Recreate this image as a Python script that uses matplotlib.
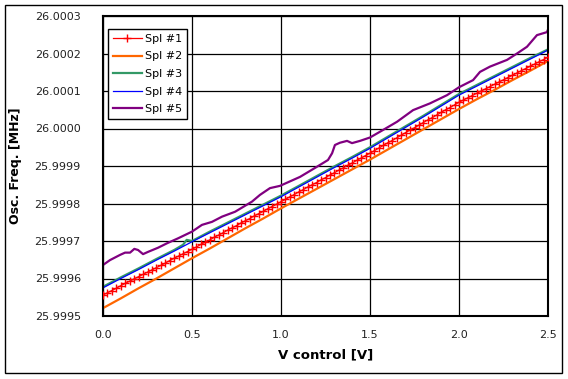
import matplotlib
matplotlib.use('Agg')
import matplotlib.pyplot as plt
from matplotlib.patches import Rectangle
from matplotlib.ticker import FormatStrFormatter, MultipleLocator

# Spl #1 (red, markers) read every 0.025 V
v_fine = [i * 0.025 for i in range(101)]
spl1 = [25.999556, 25.999562, 25.999568, 25.999574, 25.999581, 25.999587, 25.999593, 25.999599,
        25.999605, 25.999611, 25.999617, 25.999623, 25.999629, 25.999635, 25.999641, 25.999648,
        25.999654, 25.999660, 25.999666, 25.999672, 25.999678, 25.999684, 25.999691, 25.999697,
        25.999703, 25.999710, 25.999716, 25.999722, 25.999729, 25.999735, 25.999741, 25.999748,
        25.999754, 25.999760, 25.999767, 25.999773, 25.999779, 25.999786, 25.999792, 25.999798,
        25.999805, 25.999811, 25.999818, 25.999824, 25.999831, 25.999837, 25.999844, 25.999850,
        25.999856, 25.999863, 25.999869, 25.999876, 25.999882, 25.999889, 25.999895, 25.999902,
        25.999908, 25.999915, 25.999921, 25.999928, 25.999934, 25.999941, 25.999948, 25.999955,
        25.999962, 25.999968, 25.999975, 25.999982, 25.999989, 25.999996, 26.000002, 26.000009,
        26.000016, 26.000023, 26.000029, 26.000036, 26.000043, 26.000050, 26.000056, 26.000063,
        26.000070, 26.000076, 26.000082, 26.000088, 26.000094, 26.000100, 26.000106, 26.000112,
        26.000118, 26.000124, 26.000130, 26.000136, 26.000142, 26.000148, 26.000154, 26.000160,
        26.000166, 26.000172, 26.000178, 26.000184, 26.000190]

# Spl #2 / #4 read every 0.1 V
v_coarse = [i * 0.1 for i in range(26)]
spl2 = [25.999521, 25.999547, 25.999574, 25.999600, 25.999627, 25.999654, 25.999680, 25.999707,
        25.999734, 25.999760, 25.999787, 25.999813, 25.999839, 25.999865, 25.999891, 25.999917,
        25.999944, 25.999971, 25.999998, 26.000025, 26.000052, 26.000078, 26.000103, 26.000129,
        26.000154, 26.000180]
spl4 = [25.999575, 25.999600, 25.999624, 25.999649, 25.999673, 25.999698, 25.999722, 25.999746,
        25.999770, 25.999794, 25.999818, 25.999844, 25.999870, 25.999896, 25.999921, 25.999947,
        25.999975, 26.000003, 26.000031, 26.000060, 26.000089, 26.000113, 26.000137, 26.000161,
        26.000185, 26.000209]

# Spl #3 nearly on top of #4, small bump near 0.47 V
v_spl3 = [0.0, 0.1, 0.2, 0.3, 0.4, 0.45, 0.47, 0.5, 0.6, 0.7, 0.8, 0.9, 1.0, 1.1, 1.2, 1.3,
          1.4, 1.5, 1.6, 1.7, 1.8, 1.9, 2.0, 2.1, 2.2, 2.3, 2.4, 2.5]
spl3 = [25.999578, 25.999603, 25.999627, 25.999652, 25.999676, 25.999690, 25.999703, 25.999700,
        25.999725, 25.999749, 25.999773, 25.999797, 25.999821, 25.999847, 25.999873, 25.999899,
        25.999924, 25.999950, 25.999978, 26.000006, 26.000034, 26.000063, 26.000092, 26.000116,
        26.000140, 26.000164, 26.000188, 26.000211]

# Spl #5 (purple)
v_spl5 = [0.0, 0.039, 0.096, 0.124, 0.152, 0.176, 0.197, 0.225, 0.253, 0.309, 0.360, 0.421,
          0.500, 0.556, 0.612, 0.669, 0.742, 0.837, 0.882, 0.938, 0.994, 1.107, 1.202, 1.264,
          1.287, 1.303, 1.331, 1.371, 1.399, 1.444, 1.500, 1.573, 1.652, 1.742, 1.837, 1.933,
          2.000, 2.079, 2.118, 2.174, 2.270, 2.326, 2.382, 2.438, 2.494, 2.500]
spl5 = [25.999636, 25.999649, 25.999663, 25.999669, 25.999669, 25.999679, 25.999676, 25.999665,
        25.999671, 25.999682, 25.999694, 25.999707, 25.999725, 25.999743, 25.999751, 25.999765,
        25.999778, 25.999805, 25.999823, 25.999841, 25.999847, 25.999871, 25.999898, 25.999916,
        25.999934, 25.999956, 25.999962, 25.999967, 25.999961, 25.999967, 25.999976, 25.999996,
        26.000018, 26.000049, 26.000067, 26.000089, 26.000110, 26.000129, 26.000151, 26.000165,
        26.000183, 26.000200, 26.000218, 26.000249, 26.000257, 26.000264]

plt.rcParams['font.family'] = ['DejaVu Sans']
fig = plt.figure(figsize=(5.68, 3.79), dpi=100)
fig.patches.append(Rectangle((0.009, 0.016), 0.981, 0.971, transform=fig.transFigure,
                             fill=False, edgecolor='black', linewidth=1))
ax = fig.add_axes([103 / 568, 63 / 379, 445 / 568, 300 / 379])

ax.plot(v_fine, spl1, color='#ff0000', lw=0.9, marker='+', markersize=6, markeredgewidth=1,
        label='Spl #1', zorder=3)
ax.plot(v_coarse, spl2, color='#ff6600', lw=1.6, label='Spl #2', zorder=2)
ax.plot(v_spl3, spl3, color='#339966', lw=1.6, label='Spl #3', zorder=2)
ax.plot(v_coarse, spl4, color='#0000ff', lw=0.9, label='Spl #4', zorder=2.5)
ax.plot(v_spl5, spl5, color='#800080', lw=1.6, label='Spl #5', zorder=2)

ax.set_xlim(0, 2.5)
ax.set_ylim(25.9995, 26.0003)
ax.xaxis.set_major_locator(MultipleLocator(0.5))
ax.yaxis.set_major_locator(MultipleLocator(0.0001))
ax.xaxis.set_major_formatter(FormatStrFormatter('%.1f'))
ax.yaxis.set_major_formatter(FormatStrFormatter('%.4f'))
ax.tick_params(length=0, labelsize=8, labelcolor='#222222')
ax.tick_params(axis='y', pad=16)
ax.tick_params(axis='x', pad=10)
ax.grid(True, color='black', lw=0.9)
ax.set_axisbelow(True)
for s in ax.spines.values():
    s.set_linewidth(1.5)

ax.set_xlabel('V control [V]', fontsize=9.5, fontweight='bold', labelpad=6)
ax.set_ylabel('Osc. Freq. [MHz]', fontsize=9, fontweight='bold', labelpad=9)

leg = ax.legend(loc='upper left', bbox_to_anchor=(0.011, 0.957), borderaxespad=0,
                fontsize=8, fancybox=False, framealpha=1, edgecolor='black',
                handlelength=2.6, handletextpad=0.3, labelspacing=0.68, borderpad=0.45)
leg.get_frame().set_linewidth(1)

fig.savefig('out.png', dpi=100)
